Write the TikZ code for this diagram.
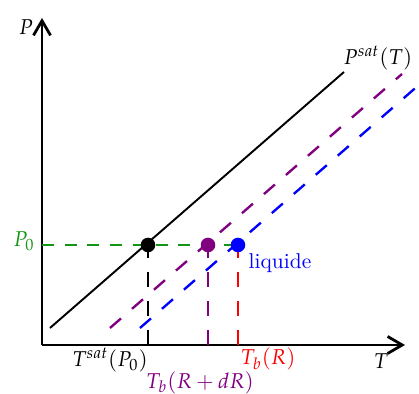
\documentclass[tikz,border=0pt]{standalone}
\usepackage{amsmath}
\usepackage{mathpazo}
\usepackage{tikz}
\usetikzlibrary{arrows.meta}
\definecolor{courbeviolet}{RGB}{128,0,128}
\definecolor{courbevert}{RGB}{20,150,20}

\begin{document}
\begin{tikzpicture}[scale=0.164, >={Straight Barb[length=2.4mm,width=2.8mm]}, line width=0.9pt,
    pt/.style={circle,fill,inner sep=0pt,minimum size=6.8pt},
    tirets/.style={dash pattern=on 6.8pt off 6.8pt, line width=1.1pt}]
    \useasboundingbox (-4.2,-4.9) rectangle (37.7,34.5);
    % axes
    \coordinate (O) at (0,0);
    \coordinate (xmax) at (36.3,0);
    \coordinate (ymax) at (0,32.7);
    \draw[->,line width=1.3pt] (O)--(xmax);
    \draw[->,line width=1.3pt] (O)--(ymax);
    \node (labP) at (-1.6,31.8) {$P$};
    \node (labT) at (33.9,-1.6) {$T$};
    % points a P0
    \coordinate (P0) at (0,10);
    \coordinate (a) at (10.6,10);
    \coordinate (b) at (16.6,10);
    \coordinate (c) at (19.6,10);
    \coordinate (Ta) at (10.6,0);
    \coordinate (Tb) at (16.6,0);
    \coordinate (Tc) at (19.6,0);
    % courbes
    \coordinate (s1) at (0.8,1.7);
    \coordinate (s2) at (30.2,27.3);
    \draw (s1)--(s2);
    \node (labsat) at (33.6,28.7) {$P^{sat}(T)$};
    \coordinate (v1) at (6.8,1.7);
    \coordinate (v2) at (36.0,27.1);
    \draw[tirets,courbeviolet] (v1)--(v2);
    \coordinate (w1) at (9.8,1.7);
    \coordinate (w2) at (38.6,26.8);
    \draw[tirets,blue] (w1)--(w2);
    % traits pointilles
    \draw[courbevert,dash pattern=on 5.6pt off 5pt,line width=1.1pt] (P0)--(c);
    \draw[tirets,black] (Ta)--(a);
    \draw[tirets,courbeviolet] (Tb)--(b);
    \draw[tirets,red] (Tc)--(c);
    \node[pt,black] (pa) at (a) {};
    \node[pt,courbeviolet] (pb) at (b) {};
    \node[pt,blue] (pc) at (c) {};
    % etiquettes
    \node[courbevert] (labP0) at (-1.8,10.4) {$P_0$};
    \node[blue] (labliq) at (23.8,8.2) {liquide};
    \node (labTsat) at (6.8,-1.5) {$T^{sat}(P_0)$};
    \node[red,inner sep=1pt] (labTR) at (22.6,-1.4) {$T_b(R)$};
    \node[courbeviolet,inner sep=1pt] (labTdR) at (15.8,-3.75) {$T_b(R+dR)$};
\end{tikzpicture}
\end{document}
